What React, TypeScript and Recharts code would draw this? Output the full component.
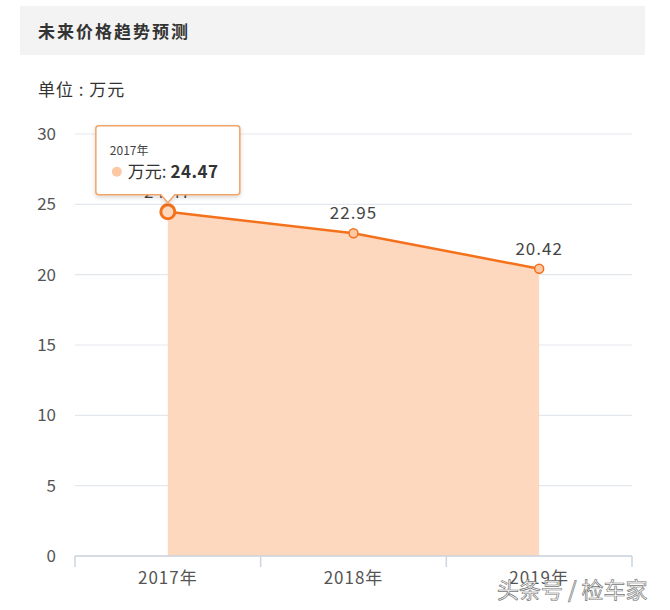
import React from "react";
import { AreaChart, Area, XAxis, YAxis, CartesianGrid, LabelList } from "recharts";

const years = ["2017年", "2018年", "2019年"];
const prices = [24.47, 22.95, 20.42];
const yTicks = [0, 5, 10, 15, 20, 25, 30];
const xTicks = [0, 0.5, 1, 1.5, 2, 2.5, 3];
const unitName = "万元";

const rows = years.map((year, i) => ({ pos: i + 0.5, year, price: prices[i] }));

const LINE = "#f4711c";
const FILL = "#fed8be";
const FONT = "'Noto Sans CJK SC', 'Noto Sans', sans-serif";

const XTick = (props: any) => {
  const { x, y, payload } = props;
  const v = payload.value;
  if (Number.isInteger(v)) {
    return <line x1={x} x2={x} y1={y} y2={y + 11} stroke="#cdd4de" strokeWidth={1.5} />;
  }
  return (
    <text x={x} y={y + 28} textAnchor="middle" fontSize={17} letterSpacing={1} fill="#555" fontFamily={FONT}>
      {years[Math.floor(v)]}
    </text>
  );
};

const Dot = (props: any) => {
  const { cx, cy, index } = props;
  if (index === 0) {
    return <circle cx={cx} cy={cy} r={7} fill={FILL} stroke={LINE} strokeWidth={3} />;
  }
  return <circle cx={cx} cy={cy} r={4.5} fill="#fdc8a4" stroke={LINE} strokeWidth={1.5} />;
};

const PointLabel = (props: any) => {
  const { x, y, value, index } = props;
  const label = (
    <text x={x} y={y - 14} textAnchor="middle" fontSize={17} letterSpacing={1} fill="#444" fontFamily={FONT}>
      {Number(value).toFixed(2)}
    </text>
  );
  if (index !== 0) return label;
  const w = 144;
  const h = 69;
  const left = x - w / 2;
  const bottom = y - 17;
  const top = bottom - h;
  return (
    <g>
      {label}
      <defs>
        <filter id="tipShadow" x="-20%" y="-20%" width="140%" height="150%">
          <feDropShadow dx="0" dy="2" stdDeviation="2" floodColor="#000" floodOpacity="0.15" />
        </filter>
      </defs>
      <path
        d={`M${left + 3},${top} H${left + w - 3} Q${left + w},${top} ${left + w},${top + 3} V${bottom - 3} Q${left + w},${bottom} ${left + w - 3},${bottom} H${x + 7} L${x},${bottom + 8} L${x - 7},${bottom} H${left + 3} Q${left},${bottom} ${left},${bottom - 3} V${top + 3} Q${left},${top} ${left + 3},${top} Z`}
        fill="#fff"
        stroke="#f2a468"
        strokeWidth={1.5}
        filter="url(#tipShadow)"
      />
      <text x={left + 14} y={top + 29} fontSize={12} fill="#444" fontFamily={FONT}>
        {years[index]}
      </text>
      <circle cx={left + 21} cy={top + 46} r={5} fill="#fdc8a4" />
      <text x={left + 32} y={top + 52} fontSize={17} fill="#333" fontFamily={FONT}>
        {unitName}:{" "}
        <tspan fontWeight="bold" letterSpacing={0.5}>{Number(value).toFixed(2)}</tspan>
      </text>
    </g>
  );
};

export default function App() {
  return (
    <div style={{ position: "absolute", left: 0, top: 0, width: 670, height: 610, background: "#fff", fontFamily: FONT }}>
      <div style={{ position: "absolute", left: 20, top: 6, width: 625, height: 49, background: "#f3f3f3" }} />
      <div style={{ position: "absolute", left: 38, top: 18, fontSize: 17, letterSpacing: 2, fontWeight: "bold", color: "#333" }}>
        未来价格趋势预测
      </div>
      <div style={{ position: "absolute", left: 38, top: 76, fontSize: 17, letterSpacing: 1, color: "#333" }}>单位 : 万元</div>
      <div style={{ position: "absolute", left: 0, top: 0 }}>
        <AreaChart width={670} height={610} data={rows} margin={{ top: 134, right: 38, bottom: 0, left: 0 }}>
          <CartesianGrid vertical={false} stroke="#e4e8ee" strokeWidth={1.2} />
          <XAxis
            dataKey="pos"
            type="number"
            domain={[0, 3]}
            ticks={xTicks}
            interval={0}
            tickLine={false}
            tickSize={0}
            tickMargin={0}
            axisLine={{ stroke: "#cdd4de", strokeWidth: 1.5 }}
            tick={<XTick />}
            height={54}
          />
          <YAxis
            domain={[0, 30]}
            ticks={yTicks}
            interval={0}
            width={75}
            axisLine={false}
            tickLine={false}
            tickSize={0}
            tickMargin={19}
            tick={{ fontSize: 17, fill: "#555", fontFamily: FONT }}
          />
          <Area
            type="linear"
            dataKey="price"
            stroke={LINE}
            strokeWidth={2.5}
            fill={FILL}
            fillOpacity={1}
            dot={<Dot />}
            activeDot={false}
            isAnimationActive={false}
          >
            <LabelList dataKey="price" content={<PointLabel />} />
          </Area>
        </AreaChart>
      </div>
      <div
        style={{
          position: "absolute",
          left: 497,
          top: 572,
          fontSize: 22,
          color: "#fff",
          WebkitTextStroke: "0.7px #777",
          whiteSpace: "nowrap",
        }}
      >
        头条号 / 检车家
      </div>
    </div>
  );
}
